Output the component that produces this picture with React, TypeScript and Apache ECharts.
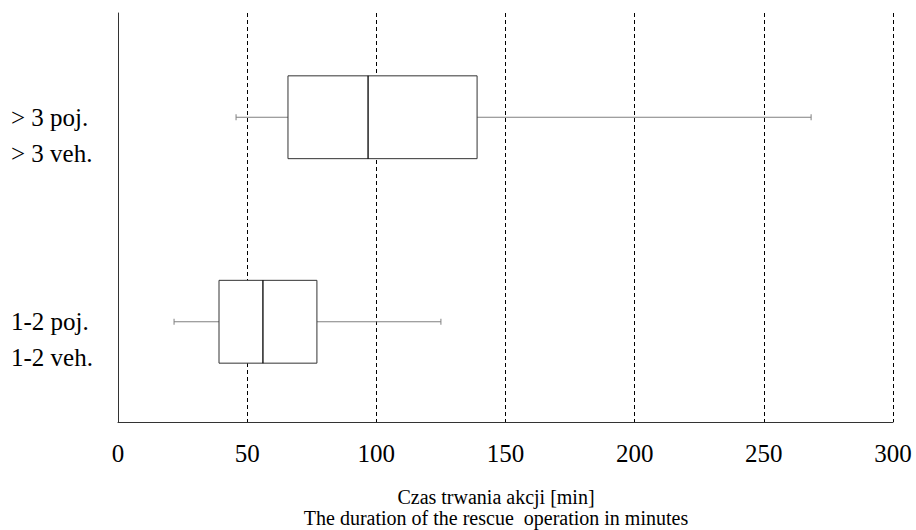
import React, { useEffect, useRef } from "react";
import * as echarts from "echarts";

const categories = ["1-2 poj.\n1-2 veh.", "> 3 poj.\n> 3 veh."];
// [min, q1, median, q3, max]
const smallGroup = [21.7, 39.1, 56.1, 77.0, 125.0];
const largeGroup = [45.7, 65.8, 96.8, 139.0, 268.3];
const xTicks = [0, 50, 100, 150, 200, 250, 300];
const xTitleLines = ["Czas trwania akcji [min]", "The duration of the rescue  operation in minutes"];

const FONT = "Liberation Serif";

export default function App() {
  const ref = useRef<HTMLDivElement>(null);
  useEffect(() => {
    if (!ref.current) return;
    const chart = echarts.init(ref.current, undefined, { renderer: "svg" });
    const data = [
      [0, ...smallGroup],
      [1, ...largeGroup],
    ];
    const labelData = categories.map((_, i) => [0, i]);
    chart.setOption({
      animation: false,
      backgroundColor: "#fff",
      grid: { left: 118, right: 23, top: 13, bottom: 108, outerBoundsMode: "none", containLabel: false },
      graphic: xTitleLines.map((t, i) => ({
        type: "text",
        x: 496,
        y: 497 + i * 21,
        style: {
          text: t,
          fontFamily: FONT,
          fontSize: 20,
          fill: "#000",
          textAlign: "center",
          textVerticalAlign: "middle",
        },
        z: 10,
      })),
      xAxis: {
        type: "value",
        min: xTicks[0],
        max: xTicks[xTicks.length - 1],
        interval: 50,
        axisLine: { show: true, lineStyle: { color: "#333", width: 1 } },
        axisTick: { show: false },
        splitLine: { show: true, lineStyle: { color: "#000", type: [4, 3], width: 1 } },
        axisLabel: { fontFamily: FONT, fontSize: 25, color: "#000", margin: 19 },
      },
      yAxis: {
        type: "category",
        data: categories,
        axisLine: { show: true, lineStyle: { color: "#333", width: 1 } },
        axisTick: { show: false },
        splitLine: { show: false },
        axisLabel: { show: false },
      },
      series: [
        {
          type: "custom",
          data,
          encode: { x: [1, 2, 3, 4, 5], y: 0 },
          renderItem: (params: any, api: any) => {
            const cat = api.value(0);
            const pMin = api.coord([api.value(1), cat]);
            const pQ1 = api.coord([api.value(2), cat]);
            const pMed = api.coord([api.value(3), cat]);
            const pQ3 = api.coord([api.value(4), cat]);
            const pMax = api.coord([api.value(5), cat]);
            const band = api.size([0, 1])[1];
            const h = band * 0.405;
            const y = pMed[1] + 2;
            const cap = 3;
            const wStyle = { stroke: "#808080", lineWidth: 1 };
            return {
              type: "group",
              children: [
                { type: "line", shape: { x1: pMin[0], y1: y, x2: pQ1[0], y2: y }, style: wStyle },
                { type: "line", shape: { x1: pQ3[0], y1: y, x2: pMax[0], y2: y }, style: wStyle },
                { type: "line", shape: { x1: pMin[0], y1: y - cap, x2: pMin[0], y2: y + cap }, style: wStyle },
                { type: "line", shape: { x1: pMax[0], y1: y - cap, x2: pMax[0], y2: y + cap }, style: wStyle },
                {
                  type: "rect",
                  shape: { x: pQ1[0], y: y - h / 2, width: pQ3[0] - pQ1[0], height: h },
                  style: { fill: "#fff", stroke: "#333", lineWidth: 1 },
                },
                {
                  type: "line",
                  shape: { x1: pMed[0], y1: y - h / 2, x2: pMed[0], y2: y + h / 2 },
                  style: { stroke: "#000", lineWidth: 1.3 },
                },
              ],
            };
          },
        },
        {
          type: "custom",
          data: labelData,
          encode: { x: 0, y: 1 },
          clip: false,
          silent: true,
          renderItem: (params: any, api: any) => {
            const idx = api.value(1);
            const p = api.coord([0, idx]);
            const lines = categories[idx].split("\n");
            return {
              type: "group",
              children: lines.map((l, i) => ({
                type: "text",
                x: p[0] - 107,
                y: p[1] + 2 + i * 36,
                style: {
                  text: l,
                  fontFamily: FONT,
                  fontSize: 25,
                  fill: "#000",
                  textAlign: "left",
                  textVerticalAlign: "middle",
                },
              })),
            };
          },
        },
      ],
    });
    return () => chart.dispose();
  }, []);
  return <div ref={ref} style={{ width: 916, height: 530, position: "absolute", left: 0, top: 0 }} />;
}
